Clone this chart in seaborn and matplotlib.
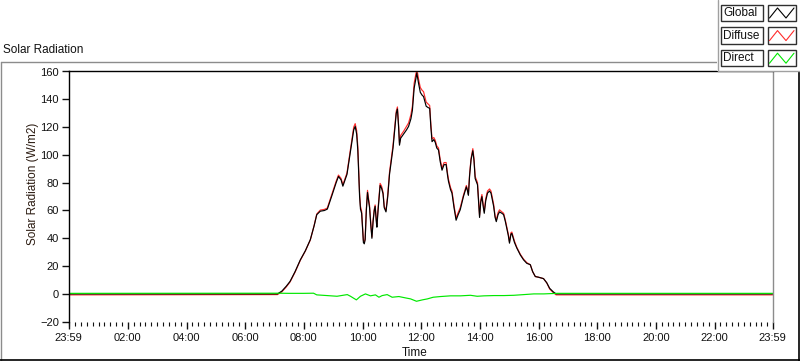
import matplotlib
matplotlib.use("Agg")
from matplotlib import pyplot as plt
from matplotlib.lines import Line2D
from matplotlib.patches import Rectangle
from matplotlib.ticker import MultipleLocator
from matplotlib.transforms import Affine2D
import seaborn as sns
import pandas as pd

# time in hours from midnight, the chart runs 23:59 -> 23:59
global_hours = [-0.017, 7.1, 7.25, 7.4, 7.53, 7.7, 7.88, 8.05, 8.22, 8.35,
                8.44, 8.56, 8.7, 8.8, 8.96, 9.1, 9.18, 9.27, 9.33, 9.47,
                9.6, 9.7, 9.75, 9.8, 9.84, 9.88, 9.9, 9.93, 9.97, 10.03,
                10.06, 10.09, 10.13, 10.17, 10.2, 10.24, 10.28, 10.32, 10.36, 10.4,
                10.43, 10.47, 10.49, 10.53, 10.6, 10.65, 10.7, 10.74, 10.78, 10.8,
                10.86, 10.92, 11.04, 11.15, 11.19, 11.23, 11.26, 11.3, 11.4, 11.5,
                11.57, 11.65, 11.7, 11.76, 11.82, 11.85, 11.88, 11.91, 11.97, 12.03,
                12.08, 12.17, 12.24, 12.29, 12.33, 12.37, 12.43, 12.48, 12.53, 12.59,
                12.65, 12.71, 12.78, 12.85, 12.9, 12.93, 13.0, 13.05, 13.12, 13.19,
                13.26, 13.33, 13.44, 13.54, 13.58, 13.61, 13.65, 13.7, 13.76, 13.8,
                13.84, 13.92, 13.96, 13.99, 14.03, 14.07, 14.12, 14.15, 14.2, 14.26,
                14.33, 14.38, 14.43, 14.47, 14.52, 14.56, 14.62, 14.67, 14.75, 14.81,
                14.87, 14.92, 14.97, 15.01, 15.06, 15.09, 15.18, 15.26, 15.38, 15.49,
                15.6, 15.72, 15.8, 15.89, 16.0, 16.17, 16.28, 16.38, 16.5, 16.6,
                23.983]
global_vals = [0, 0, 2, 5.5, 9, 16, 24.5, 31, 39, 49,
               57, 59.5, 60, 61, 71, 80, 84.5, 82, 77.5, 86,
               104, 118, 120.5, 115, 103, 80, 70, 61, 58, 37,
               36, 39, 60, 73, 68, 62, 50, 40, 52, 60,
               63, 52, 48, 60, 78, 76, 72, 62, 60, 59,
               70, 86, 105, 130, 133, 120, 107, 112, 115, 118,
               120.5, 126, 132, 148, 155, 159, 155, 151.5, 145, 143,
               142, 135, 134, 133.5, 120, 109.5, 111, 109, 105, 103.5,
               95, 89, 93, 93, 85, 81, 75, 72.5, 62, 53,
               57, 60.5, 70, 77, 74, 71, 85, 96.5, 103, 96,
               83, 78.5, 65, 55, 66, 70, 62, 58, 67, 72.5,
               74, 72.5, 67, 63, 55, 52, 57, 59, 58, 57,
               52, 47, 42, 36.5, 43, 43.5, 37, 33, 28, 24.5,
               22, 21, 16, 12.5, 12, 11, 8, 4, 1.5, 0,
               0]
diffuse_vals = [-0.7, -0.5, 1.5, 5, 8.6, 15.6, 24.2, 30.8, 38.8, 49.2,
                57.5, 60.3, 60.8, 61.8, 72, 81, 85.5, 83, 78.5, 87,
                105.5, 120, 122.5, 117.5, 106, 82.5, 72.5, 63, 59.5, 38.5,
                37, 40, 61, 74.5, 69.5, 63.5, 51.5, 41, 53, 61,
                64, 53.5, 50, 61.5, 79.5, 77.5, 73, 63, 61, 60,
                71.5, 87.5, 107, 131.5, 134.5, 121.5, 108.5, 114, 117, 120.5,
                123, 129, 135, 151.5, 158.5, 160.5, 158.5, 154.5, 148.5, 146.5,
                145.5, 138, 136.5, 135.5, 122, 111.5, 112.5, 110.5, 106.5, 105,
                96.5, 90.5, 94.5, 94.5, 86.5, 82.5, 76.5, 74, 63.5, 54.5,
                58.5, 62, 71, 78, 75, 72, 86, 97.5, 104.5, 97.5,
                84.5, 80, 66.5, 56.5, 67.5, 71.5, 63.5, 59.5, 68.5, 74,
                75.5, 74, 68.5, 64.5, 56, 53, 58.5, 60.5, 59, 58,
                53, 48, 43, 37.5, 44, 44.5, 38, 33.5, 28.5, 25,
                22.5, 21, 16, 12.5, 12, 11, 8, 3.5, 1, -0.7,
                -0.7]
direct_hours = [-0.017, 7.13, 7.48, 7.99, 8.33, 8.44, 8.79, 9.13, 9.48, 9.59,
                9.79, 9.93, 10.1, 10.27, 10.44, 10.56, 10.67, 10.84, 11.01, 11.24,
                11.47, 11.64, 11.84, 12.04, 12.21, 12.41, 12.66, 13.0, 13.34, 13.68,
                13.91, 14.14, 14.48, 14.82, 15.16, 15.5, 15.84, 16.18, 16.64, 23.983]
direct_vals = [0.4, 0.5, 0.4, 0.4, 0.5, -0.7, -1.2, -1.7, -0.5, -1.7,
               -4.3, -1.7, 0, -1.4, -0.7, -2.4, -1.2, -0.5, -2.4, -1.9,
               -2.9, -3.6, -5.3, -4.3, -3.6, -2.4, -1.9, -1.4, -1.4, -1.0,
               -1.7, -1.4, -1.2, -1.2, -1.0, -0.5, 0, 0, 0.4, 0.4]

series_names = ["Global", "Diffuse", "Direct"]
series_colors = {"Global": "#000000", "Diffuse": "#ff2b2b", "Direct": "#00e800"}
x_tick_hours = [-1 / 60, 2, 4, 6, 8, 10, 12, 14, 16, 18, 20, 22, 24 - 1 / 60]
x_tick_labels = ["23:59", "02:00", "04:00", "06:00", "08:00", "10:00", "12:00",
                 "14:00", "16:00", "18:00", "20:00", "22:00", "23:59"]
y_ticks = [-20, 0, 20, 40, 60, 80, 100, 120, 140, 160]

df = pd.concat([
    pd.DataFrame({"hour": global_hours, "value": diffuse_vals, "series": "Diffuse"}),
    pd.DataFrame({"hour": global_hours, "value": global_vals, "series": "Global"}),
    pd.DataFrame({"hour": direct_hours, "value": direct_vals, "series": "Direct"}),
])

sns.set_style("white")
plt.rcParams["font.family"] = ["Liberation Sans", "DejaVu Sans"]
plt.rcParams["font.size"] = 8

W, H = 800, 361
fig = plt.figure(figsize=(W / 100, H / 100), dpi=100)
# pixel coords (y downwards) -> figure
pix = Affine2D().scale(1 / W, -1 / H).translate(0, 1) + fig.transFigure

left, top, right, bottom = 68.7, 71.5, 772.7, 321.7
ax = fig.add_axes([left / W, 1 - bottom / H, (right - left) / W, (bottom - top) / H])

sns.lineplot(data=df, x="hour", y="value", hue="series", palette=series_colors,
             hue_order=["Diffuse", "Global", "Direct"], estimator=None, sort=False,
             linewidth=0.85, legend=False, ax=ax)

ax.set_xlim(x_tick_hours[0], x_tick_hours[-1])
ax.set_ylim(-20, 160)
ax.set_yticks(y_ticks)
ax.set_xticks(x_tick_hours)
ax.set_xticklabels(x_tick_labels)
ax.xaxis.set_minor_locator(MultipleLocator(0.2))
ax.set_xlabel("")
ax.set_ylabel("")
ax.tick_params(axis="y", direction="out", length=5, width=1, pad=2, left=True, labelsize=8, colors="#111111")
ax.tick_params(axis="x", which="major", direction="out", length=5, width=1, pad=3, bottom=True, labelsize=8, colors="#111111")
ax.tick_params(axis="x", which="minor", direction="out", length=3, width=0.8, bottom=True, colors="#111111")
ax.spines["left"].set_color("black")
ax.spines["top"].set_color("black")
ax.spines["right"].set_color("#8c8c8c")
ax.spines["bottom"].set_visible(False)
for s in ["left", "top", "right"]:
    ax.spines[s].set_linewidth(1.0)

# outer panel frame
fig.add_artist(Line2D([0.5, 717], [61.5, 61.5], color="#8c8c8c", lw=1, transform=pix))
fig.add_artist(Line2D([0.5, 0.5], [61.5, 361], color="#8c8c8c", lw=1, transform=pix))
fig.add_artist(Line2D([0, 800], [360, 360], color="black", lw=1.2, transform=pix))
fig.add_artist(Line2D([799, 799], [71, 361], color="black", lw=1.2, transform=pix))

fig.text(3, 50, "Solar Radiation", transform=pix, fontsize=8.5, va="center", ha="left", color="#111111")
fig.text(33, 184, "Solar Radiation (W/m2)", transform=pix, fontsize=8.5, va="center", ha="center",
         rotation=90, color="#2a1a10")
fig.text(415, 353, "Time", transform=pix, fontsize=8.5, va="center", ha="center", color="#111111")

# legend panel, top right
fig.add_artist(Rectangle((717, 0), 83, 71, transform=pix, facecolor="white", edgecolor="none", zorder=5))
fig.add_artist(Line2D([717.5, 717.5], [0, 71], color="#a0a0a0", lw=1, transform=pix, zorder=6))
fig.add_artist(Line2D([717.5, 800], [71, 71], color="#a0a0a0", lw=1, transform=pix, zorder=6))
for i, name in enumerate(series_names):
    y0 = 4.5 + i * 22.6
    fig.add_artist(Rectangle((721, y0), 42, 16.5, transform=pix, facecolor="white",
                             edgecolor="#303030", lw=1, zorder=7))
    fig.add_artist(Rectangle((767.5, y0), 28, 16.5, transform=pix, facecolor="white",
                             edgecolor="#303030", lw=1, zorder=7))
    fig.text(723.5, y0 + 8.5, name, transform=pix, fontsize=8.5, va="center", ha="left",
             color="#111111", zorder=8)
    fig.add_artist(Line2D([769.5, 777.5, 786, 794], [y0 + 13.5, y0 + 3.5, y0 + 13.5, y0 + 3.5],
                          color=series_colors[name], lw=0.8, transform=pix, zorder=8))

fig.savefig("out.png", dpi=100)
